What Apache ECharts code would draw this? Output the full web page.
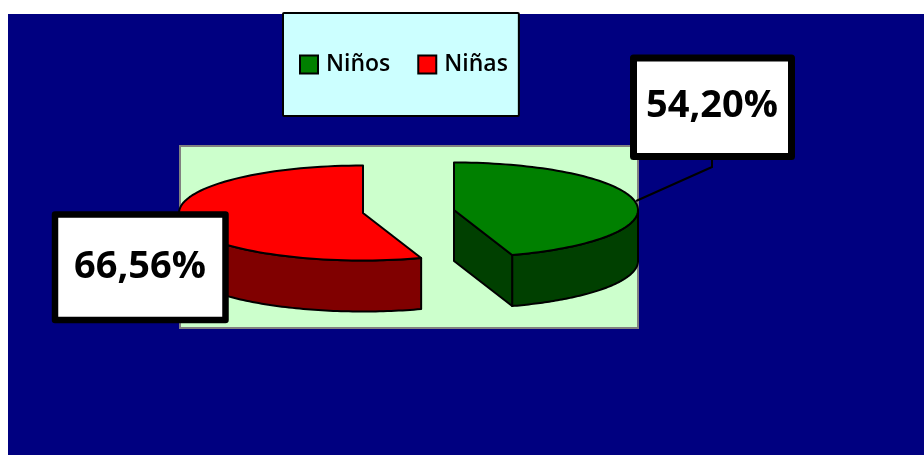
<!DOCTYPE html>
<html>
<head>
<meta charset="utf-8">
<style>
html,body{margin:0;padding:0;background:#fff;width:924px;height:455px;overflow:hidden}
#bg{position:absolute;left:8px;top:14px;width:916px;height:441px;background:#000080}
#main{position:absolute;left:0;top:0;width:924px;height:455px}
</style>
<script src="https://cdn.jsdelivr.net/npm/echarts@6/dist/echarts.min.js"></script>
</head>
<body>
<div id="bg"></div>
<div id="main"></div>
<script>
const categories = ['Niños', 'Niñas'];
const values = [54.20, 66.56];
const topColors = ['#008000', '#ff0000'];
const sideColors = ['#004000', '#800000'];

// Layout, in plot-area units (1 unit = 1 px).
const centers = [[274, 64], [183, 67]];
const radiusX = 184, radiusY = 47.5, depth = 51;
const boxes = [
  {x: 633.5, y: 58, w: 158, h: 98.5, lw: 7, tx: 712, ty: 106},
  {x: 55, y: 214.5, w: 170.5, h: 105.5, lw: 6.5, tx: 140, ty: 267}
];
const leaderPath = [[636, 201], [712, 167], [712, 156]];

const total = values.reduce((a, b) => a + b, 0);
const startFrac = i => values.slice(0, i).reduce((a, b) => a + b, 0) / total;
const fmt = v => v.toFixed(2).replace('.', ',') + '%';

function makeRender(i) {
  return function (params, api) {
    const c = api.coord(centers[i]);
    const t0 = startFrac(i) * 2 * Math.PI;
    const t1 = startFrac(i + 1) * 2 * Math.PI;
    const pt = (t, d) => [c[0] + radiusX * Math.sin(t), c[1] - radiusY * Math.cos(t) + (d || 0)];
    const arc = (a, b, d) => {
      const n = 90, out = [];
      for (let k = 0; k <= n; k++) out.push(pt(a + (b - a) * k / n, d));
      return out;
    };
    const line = {stroke: '#000', lineWidth: 2, lineJoin: 'round'};
    const kids = [];
    const face = (points, fill) => kids.push({
      type: 'polygon', shape: {points}, style: Object.assign({fill}, line)
    });
    // Outer wall: the part of the rim on the near side of the ellipse.
    const a = Math.max(t0, Math.PI / 2), b = Math.min(t1, 3 * Math.PI / 2);
    if (b > a) face(arc(a, b, 0).concat(arc(b, a, depth)), sideColors[i]);
    // Cut faces that look towards the viewer.
    const cut = t => face([[c[0], c[1]], pt(t), pt(t, depth), [c[0], c[1] + depth]], sideColors[i]);
    if (Math.cos(t1 + Math.PI / 2) < -1e-6) cut(t1);
    if (Math.cos(t0 - Math.PI / 2) < -1e-6) cut(t0);
    // Top.
    face([[c[0], c[1]]].concat(arc(t0, t1, 0)), topColors[i]);
    // Callout.
    if (i === 0) kids.push({type: 'polyline', shape: {points: leaderPath},
      style: {stroke: '#000', lineWidth: 2, fill: null}});
    const bx = boxes[i];
    kids.push({type: 'rect', shape: {x: bx.x, y: bx.y, width: bx.w, height: bx.h, r: 0},
      style: {fill: '#fff', stroke: '#000', lineWidth: bx.lw, lineJoin: 'round'}});
    kids.push({type: 'text', style: {
      x: bx.tx, y: bx.ty, text: fmt(api.value(0)), align: 'center', verticalAlign: 'middle',
      fill: '#000', font: '700 38px "Open Sans"'
    }});
    return {type: 'group', children: kids};
  };
}

const chart = echarts.init(document.getElementById('main'), null, {renderer: 'canvas'});
chart.setOption({
  animation: false,
  backgroundColor: 'transparent',
  grid: {show: true, left: 180, top: 146, width: 458, height: 182,
    backgroundColor: '#ccffcc', borderColor: '#808080', borderWidth: 2},
  xAxis: {type: 'value', min: 0, max: 458, show: false},
  yAxis: {type: 'value', min: 0, max: 182, inverse: true, show: false},
  legend: {
    data: categories, left: 283, top: 13, selectedMode: false,
    orient: 'horizontal', icon: 'rect', itemWidth: 18, itemHeight: 18, itemGap: 27,
    padding: [40, 11, 40, 16],
    backgroundColor: '#ccffff', borderColor: '#000', borderWidth: 2, borderRadius: 1,
    itemStyle: {borderColor: '#000', borderWidth: 2},
    textStyle: {color: '#000', fontFamily: 'Open Sans', fontWeight: 600, fontSize: 23, padding: [0, 0, 0, 3]}
  },
  series: categories.map((name, i) => ({
    type: 'custom', name, coordinateSystem: 'cartesian2d', clip: false, silent: true,
    itemStyle: {color: topColors[i]},
    encode: {x: 0, y: 1},
    data: [[values[i], 0]],
    renderItem: makeRender(i)
  }))
});
</script>
</body>
</html>
